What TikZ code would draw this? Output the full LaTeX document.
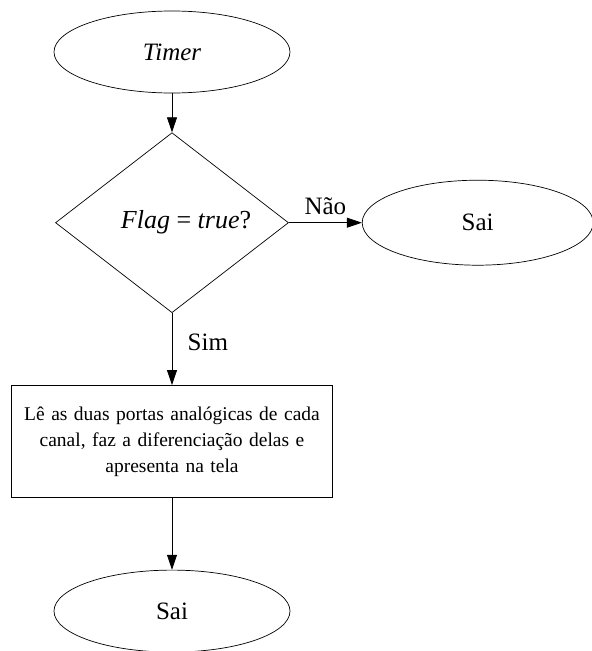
\documentclass[tikz,border=0pt]{standalone}
\usepackage{fontspec}
\setmainfont{Liberation Serif}
\usepackage{tikz}
\usetikzlibrary{arrows.meta,positioning,shapes.geometric}

\begin{document}
\begin{tikzpicture}[
    x=1pt, y=1pt,
    font=\fontsize{25}{30}\selectfont,
    term/.style={draw, ellipse, line width=0.7pt, inner sep=0pt,
                 minimum width=236pt, minimum height=82pt},
    decis/.style={draw, diamond, aspect=1.3, line width=0.7pt, inner sep=0pt,
                  minimum width=233pt, minimum height=180pt,
                  font=\fontsize{26}{30}\selectfont},
    proc/.style={draw, rectangle, line width=0.7pt, align=center,
                 font=\fontsize{19.5}{26}\selectfont,
                 text width=310pt, minimum width=321pt, minimum height=112pt, inner sep=0pt},
    lbl/.style={font=\fontsize{25}{30}\selectfont},
    >={Triangle[length=15pt,width=10pt]},
    flow/.style={->, line width=0.7pt},
    ]
\useasboundingbox (0,0) rectangle (592,-651);

\node[term] (timer) at (172,-52) {\textit{Timer}};
\node[decis, below=39pt of timer] (flag) {\hspace*{28pt}\textit{Flag} = \textit{true}?};
\node[term, minimum width=231pt, minimum height=85pt, right=73pt of flag] (saiR) {Sai};
\node[proc, below=72pt of flag] (ler)
  {Lê as duas portas analógicas de cada\\
   canal, faz a diferenciação delas e\\
   apresenta na tela};
\node[term, below=72pt of ler] (saiB) {Sai};

\draw[flow] (timer) -- (flag);
\draw[flow] (flag) -- node[lbl, above=4pt] {Não} (saiR);
\draw[flow] (flag) -- node[lbl, right=12pt, yshift=7pt] {Sim} (ler);
\draw[flow] (ler) -- (saiB);
\end{tikzpicture}
\end{document}
